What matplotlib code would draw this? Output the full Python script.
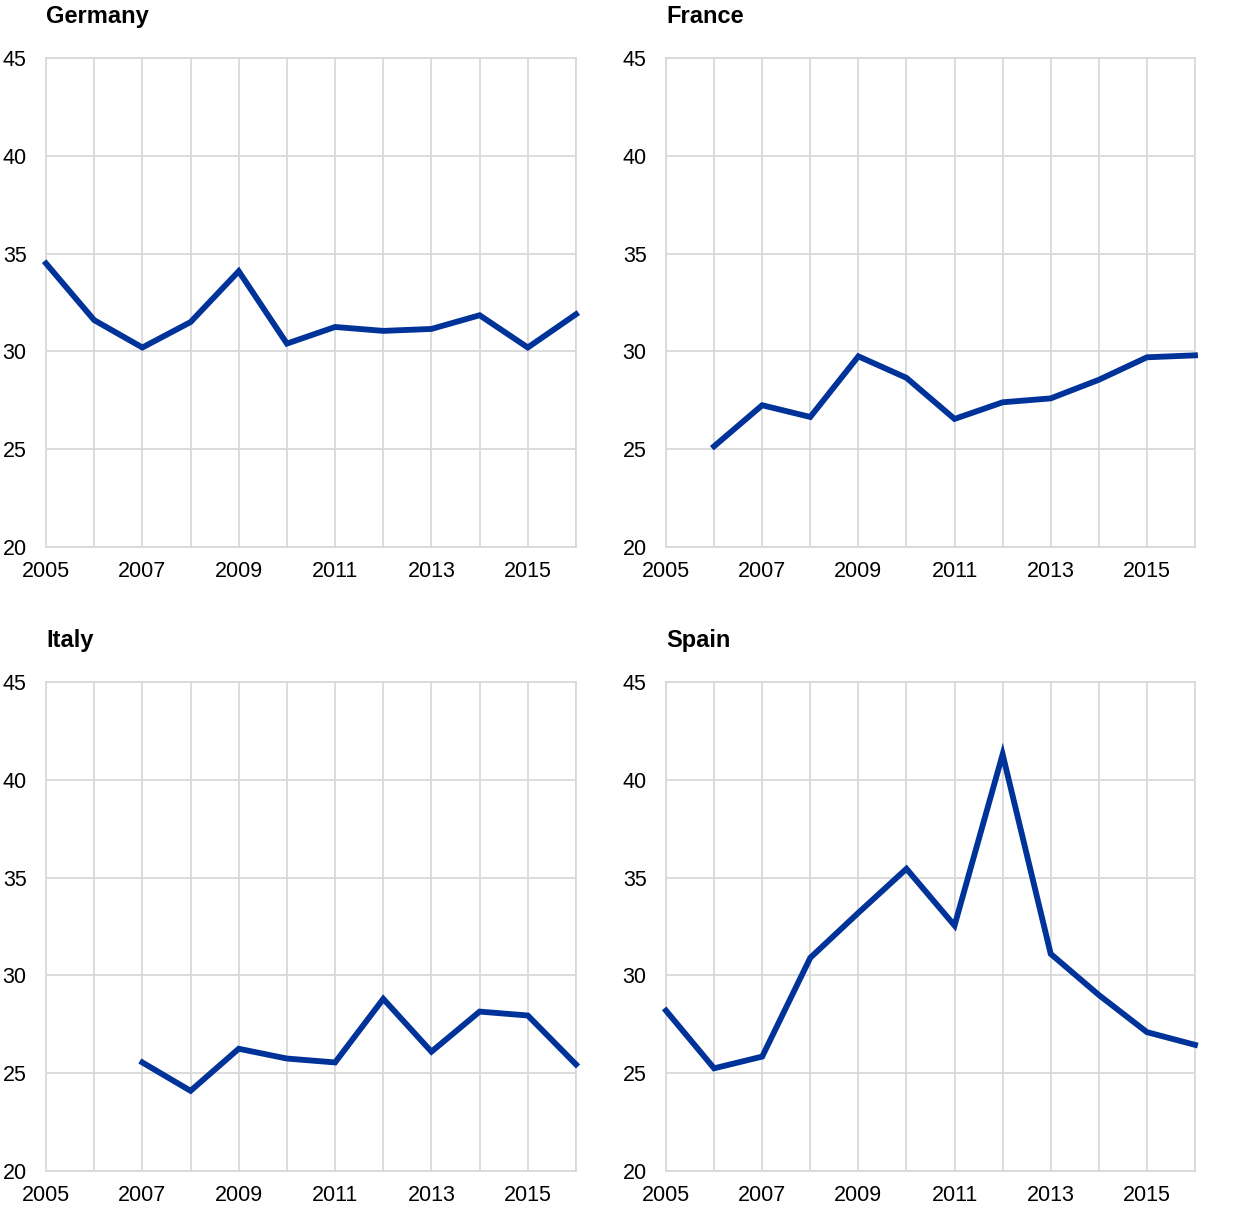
import matplotlib.pyplot as plt

plt.rcParams["font.family"] = ["Liberation Sans", "DejaVu Sans"]

YEARS = list(range(2005, 2017))

germany = [34.5, 31.6, 30.2, 31.5, 34.1, 30.4, 31.25, 31.05, 31.15, 31.85, 30.2, 31.9]
france = [None, 25.15, 27.25, 26.65, 29.75, 28.65, 26.55, 27.4, 27.6, 28.55, 29.7, 29.8]
italy = [None, None, 25.55, 24.1, 26.25, 25.75, 25.55, 28.8, 26.1, 28.15, 27.95, 25.45]
spain = [28.2, 25.25, 25.85, 30.9, 33.2, 35.45, 32.55, 41.3, 31.1, 29.0, 27.1, 26.45]

PANELS = [("Germany", germany), ("France", france), ("Italy", italy), ("Spain", spain)]
X_TICKS = [2005, 2007, 2009, 2011, 2013, 2015]
Y_TICKS = [20, 25, 30, 35, 40, 45]

LINE_COLOR = "#003399"
GRID_COLOR = "#d9d9d9"

# axes boxes in figure fractions: left, bottom, width, height
BOXES = [
    (0.0371, 0.549, 0.4274, 0.4032),
    (0.5371, 0.549, 0.4266, 0.4032),
    (0.0371, 0.0346, 0.4274, 0.4032),
    (0.5371, 0.0346, 0.4266, 0.4032),
]

fig = plt.figure(figsize=(12.4, 12.13), dpi=100)

for (title, vals), box in zip(PANELS, BOXES):
    ax = fig.add_axes(box)
    xs = [x for x, v in zip(YEARS, vals) if v is not None]
    ys = [v for v in vals if v is not None]
    ax.plot(xs, ys, color=LINE_COLOR, lw=4.2, solid_joinstyle="miter", zorder=3, clip_on=False)
    ax.set_xlim(2005, 2016)
    ax.set_ylim(20, 45)
    ax.set_xticks(YEARS)
    ax.set_xticklabels([str(y) if y in X_TICKS else "" for y in YEARS])
    ax.set_yticks(Y_TICKS)
    ax.grid(True, color=GRID_COLOR, lw=1.3)
    ax.set_axisbelow(True)
    for s in ax.spines.values():
        s.set_color(GRID_COLOR)
        s.set_linewidth(1.3)
    ax.tick_params(length=0, labelsize=15.5, colors="black")
    ax.tick_params(axis="x", pad=10)
    ax.tick_params(axis="y", pad=14)
    ax.set_title(title, loc="left", fontsize=17, fontweight="bold", pad=25)

fig.savefig("out.png", dpi=100)
